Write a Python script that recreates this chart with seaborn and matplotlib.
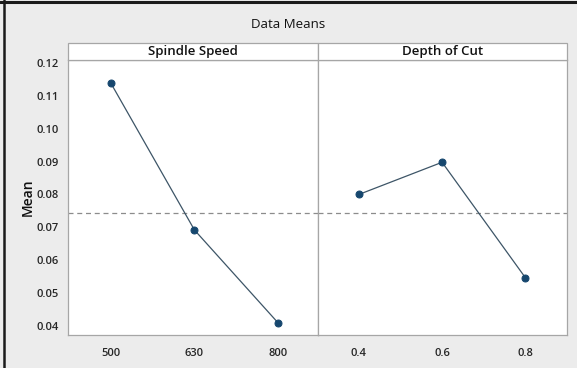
import matplotlib
matplotlib.use("Agg")
import matplotlib.pyplot as plt
import matplotlib.patches as mpatches
import matplotlib.lines as mlines
import pandas as pd
import seaborn as sns

# data
speed_levels = ["500", "630", "800"]
speed_means = [0.1138, 0.0692, 0.0410]
depth_levels = ["0.4", "0.6", "0.8"]
depth_means = [0.0800, 0.0898, 0.0547]
grand_mean = 0.0745
y_ticks = [0.04, 0.05, 0.06, 0.07, 0.08, 0.09, 0.10, 0.11, 0.12]

sns.set_style("white")
plt.rcParams["font.family"] = ["Open Sans", "DejaVu Sans"]

bg = "#ececec"
edge = "#a6a6a6"
text_col = "#262626"
line_col = "#3d5567"
dot_col = "#16476e"

fig = plt.figure(figsize=(5.77, 3.68), dpi=100, facecolor=bg)

W, H = 577, 368


def fr(x0, y0, x1, y1):
    return [x0 / W, 1 - y1 / H, (x1 - x0) / W, (y1 - y0) / H]


panels = [
    ("Spindle Speed", speed_levels, speed_means, fr(68, 60, 318, 335), (-0.515, 2.48)),
    ("Depth of Cut", depth_levels, depth_means, fr(318, 60, 567, 335), (-0.49, 2.5)),
]

axes = []
for i, (name, levels, means, rect, xlim) in enumerate(panels):
    ax = fig.add_axes(rect)
    ax.set_facecolor("white")
    df = pd.DataFrame({"level": levels, "mean": means})
    ax.axhline(grand_mean, color="#8c8c8c", linestyle=(0, (4, 3)), linewidth=0.9, zorder=1)
    sns.lineplot(
        data=df, x="level", y="mean", sort=False, ax=ax,
        color=line_col, linewidth=0.9, marker="o", markersize=5,
        markerfacecolor=dot_col, markeredgecolor=dot_col, zorder=3,
    )
    ax.set_xlim(*xlim)
    ax.set_ylim(0.03726, 0.12091)
    ax.set_xlabel("")
    ax.set_ylabel("")
    for s in ax.spines.values():
        s.set_color(edge)
        s.set_linewidth(0.9)
    ax.tick_params(axis="x", length=3, color=edge, labelsize=8, labelcolor=text_col, pad=6)
    for lab in ax.get_xticklabels():
        lab.set_fontweight("semibold")
    if i == 0:
        ax.set_yticks(y_ticks)
        ax.set_yticklabels([f"{v:.2f}" for v in y_ticks], fontweight="semibold")
        ax.tick_params(axis="y", length=3, color=edge, labelsize=8, labelcolor=text_col)
        ax.set_ylabel("Mean", fontsize=10, color="#111111", labelpad=1, fontweight="semibold")
    else:
        ax.set_yticks([])
    # strip header
    sx, sy, sw, sh = rect[0], rect[1] + rect[3], rect[2], 17 / H
    fig.patches.append(mpatches.Rectangle((sx, sy), sw, sh, transform=fig.transFigure,
                                          facecolor="white", edgecolor=edge, linewidth=0.9))
    fig.text(sx + sw / 2, sy + sh / 2, name, ha="center", va="center",
             fontsize=9.5, color="#111111", fontweight="semibold")
    axes.append(ax)

fig.text(0.5, 1 - 25 / H, "Data Means", ha="center", va="center", fontsize=9.5,
         color="#111111", fontweight="medium")

# dark frame on the top and left edges
fig.lines.append(mlines.Line2D([0, 1], [1 - 1.5 / H, 1 - 1.5 / H], transform=fig.transFigure,
                               color="#1a1a1a", linewidth=2.2))
fig.lines.append(mlines.Line2D([4 / W, 4 / W], [0, 1], transform=fig.transFigure,
                               color="#1a1a1a", linewidth=1.8))

fig.savefig("out.png", dpi=100, facecolor=bg)
